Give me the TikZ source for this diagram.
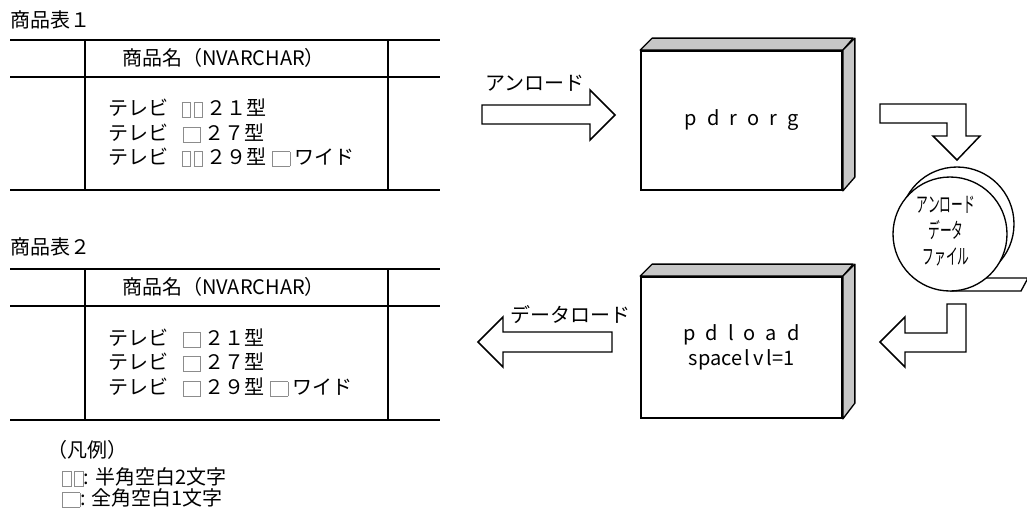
\documentclass[tikz,border=0pt]{standalone}
\usepackage{fontspec}
\setmainfont{Noto Sans CJK JP}
\usepackage{xcolor}
\usepackage{tikz}
\usetikzlibrary{positioning}
\newcommand{\jpsize}{\fontsize{15}{18.75}\selectfont}
\newcommand{\hanbox}{\raisebox{-1.5pt}{\textcolor{black!45}{\setlength{\fboxsep}{0pt}\setlength{\fboxrule}{0.5pt}\fbox{\rule{0pt}{10.5pt}\hspace{6pt}}}}}
\newcommand{\zenbox}{\raisebox{-1.5pt}{\textcolor{black!45}{\setlength{\fboxsep}{0pt}\setlength{\fboxrule}{0.5pt}\fbox{\rule{0pt}{10.5pt}\hspace{12.5pt}}}}}
\newcommand{\lsp}{\hspace{7.5pt}}
\newcommand{\cond}[1]{\scalebox{0.55}[1]{#1}}
\tikzset{
  tline/.style={draw=black, line width=1.5pt},
  txt/.style={anchor=west, inner sep=0pt, font=\jpsize},
  front/.style={rectangle, draw=black, line width=1.3pt, fill=white,
                minimum width=150.75pt, align=center, font=\jpsize},
  side/.style={draw=black, line width=1pt, fill=black!22, line join=round},
  barrow/.style={draw=black, line width=1.1pt, fill=white, line join=miter},
  reel/.style={draw=black, line width=1pt, fill=white},
  narrow/.style={inner sep=0pt, align=center, font=\fontsize{16}{19.5}\selectfont}
}
\begin{document}
\begin{tikzpicture}[x=0.75pt, y=-0.75pt]
\useasboundingbox (0,0) rectangle (1027,512);
% tables
\foreach \y in {40,77,190,269,306,420}
  \draw[tline] (10,\y) -- (440,\y);
\foreach \x in {85,388} {
  \draw[tline] (\x,40) -- (\x,190);
  \draw[tline] (\x,269) -- (\x,420);
}
\node[txt] (title1) at (10,20) {商品表１};
\node[txt] (head1) at (122,58) {商品名（NVARCHAR）};
\node[txt] (r11) at (108,108) {テレビ\hspace{10pt}\hanbox\kern2pt\hanbox\hspace{3pt}２１型};
\node[txt] (r12) at (108,133) {テレビ\hspace{11pt}\zenbox\hspace{3pt}２７型};
\node[txt] (r13) at (108,157) {テレビ\hspace{10pt}\hanbox\kern2pt\hanbox\hspace{3pt}２９型\hspace{4pt}\zenbox\hspace{3pt}ワイド};
\node[txt] (title2) at (10,247) {商品表２};
\node[txt] (head2) at (122,287) {商品名（NVARCHAR）};
\node[txt] (r21) at (108,338) {テレビ\hspace{11pt}\zenbox\hspace{3pt}２１型};
\node[txt] (r22) at (108,362) {テレビ\hspace{11pt}\zenbox\hspace{3pt}２７型};
\node[txt] (r23) at (108,387) {テレビ\hspace{11pt}\zenbox\hspace{3pt}２９型\hspace{4pt}\zenbox\hspace{3pt}ワイド};
% legend
\node[txt] (leg) at (47,450) {（凡例）};
\node[txt] (leg1) at (62,477) {\hanbox\kern2pt\hanbox: 半角空白2文字};
\node[txt] (leg2) at (62,498) {\zenbox: 全角空白1文字};
% utilities
\node[front, minimum height=104.25pt] (org) at (741.5,120.5) {p\lsp d\lsp r\lsp o\lsp r\lsp g};
\node[front, minimum height=105.75pt] (load) at (741.5,347.5) {p\lsp d\lsp l\lsp o\lsp a\lsp d\\space\kern2pt l\kern2pt v\kern2pt l=1};
\foreach \b in {org,load} {
  \draw[side] (\b.north west) -- ++(12,-12) -- ++(201,0) -- (\b.north east) -- cycle;
  \draw[side] (\b.north east) -- ++(12,-12) -- ++(0,139) -- (\b.south east) -- cycle;
}
% block arrows
\draw[barrow] (482,105) -- (590,105) -- (590,90) -- (615,115) -- (590,140) -- (590,124) -- (482,124) -- cycle;
\node[txt] (unl) at (485,83) {アンロード};
\draw[barrow] (612,332) -- (503,332) -- (503,317) -- (478,342) -- (503,367) -- (503,352) -- (612,352) -- cycle;
\node[txt] (dld) at (510,315) {データロード};
\draw[barrow] (880,104) -- (966,104) -- (966,136) -- (980,136) -- (957,160) -- (933,136) -- (947,136) -- (947,123) -- (880,123) -- cycle;
\draw[barrow] (947,304) -- (966,304) -- (966,352) -- (905,352) -- (905,367) -- (880,342) -- (905,317) -- (905,333) -- (947,333) -- cycle;
% data file reel
\draw[reel] (957,224) circle[radius=57];
\draw[reel] (950,291) -- (1021,291) -- (1028,278) -- (980,278);
\node[reel, circle, minimum size=85.5pt, inner sep=0pt] (file) at (950,234) {};
\node[narrow] (filetxt) at (946,231) {\cond{アンロード}\\\cond{データ}\\\cond{ファイル}};
\end{tikzpicture}
\end{document}
